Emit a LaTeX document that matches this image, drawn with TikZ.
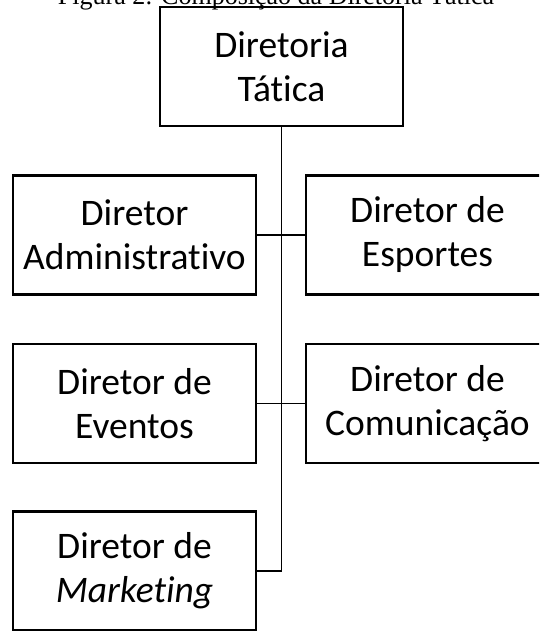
\documentclass[tikz,border=0pt]{standalone}
\usepackage{fontspec}
\setmainfont{Carlito}[Ligatures=NoCommon]
\newfontfamily\capfont{Liberation Serif}
\begin{document}
\begin{tikzpicture}[x=1pt,y=-1pt,
  orgbox/.style={draw=black, line width=2.7pt, minimum width=243pt, minimum height=119pt,
    inner sep=0pt, align=center, font=\fontsize{37.5}{44}\selectfont},
  link/.style={draw=black, line width=1.3pt}]
\useasboundingbox (0,0) rectangle (539,631);
\clip (0,0) rectangle (539,631);
\node[anchor=base, font=\capfont\fontsize{26}{30}\selectfont] (cap) at (276,5) {Figura 2: Composição da Diretoria Tática};
\node[orgbox] (top) at (281.5,66.5) {Diretoria\\Tática};
\node[orgbox] (adm) at (134.5,235) {Diretor\\Administrativo};
\node[orgbox] (esp) at (427.5,235) {Diretor de\\Esportes};
\node[orgbox] (evt) at (134.5,403.5) {Diretor de\\Eventos};
\node[orgbox] (com) at (427.5,403.5) {Diretor de\\Comunicação};
\node[orgbox] (mkt) at (134.5,571) {Diretor de\\\textit{Marketing}};
\coordinate (trunkend) at (top.south |- mkt.east);
\draw[link] (top.south) -- (trunkend) -- (mkt.east);
\draw[link] (adm.east) -- (esp.west);
\draw[link] (evt.east) -- (com.west);
\end{tikzpicture}
\end{document}
